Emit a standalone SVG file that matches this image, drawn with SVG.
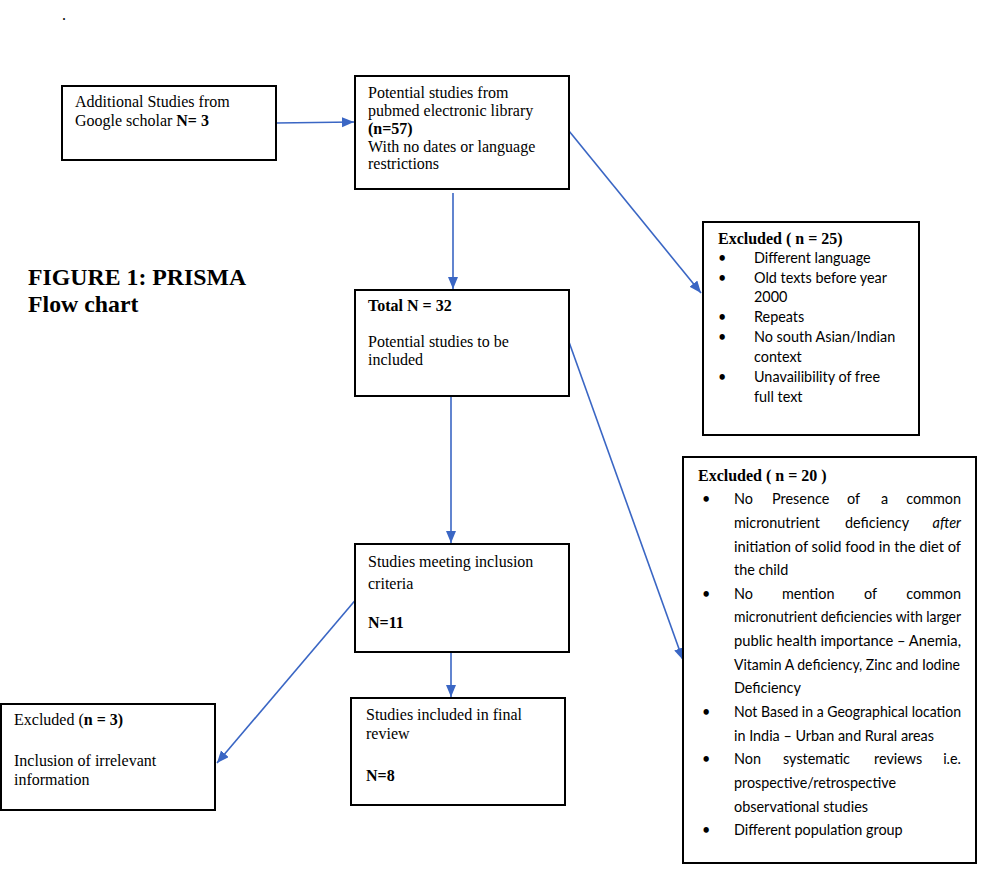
<svg xmlns="http://www.w3.org/2000/svg" width="986" height="887" viewBox="0 0 986 887">
<style>
.box{fill:#fff;stroke:#000;stroke-width:2}
.s{font-family:"Liberation Serif","Times New Roman",serif;font-size:16px;fill:#000}
.b{font-weight:bold}
.c{font-family:Lato,"Open Sans",sans-serif;font-size:14.4px;fill:#000}
.title{font-family:"Liberation Serif",serif;font-size:23.8px;font-weight:bold;fill:#000}
.con{stroke:#3A66C4;stroke-width:1.6;fill:none;marker-end:url(#ah)}
</style>
<defs>
<marker id="ah" markerUnits="userSpaceOnUse" markerWidth="13" markerHeight="11" refX="12" refY="5" orient="auto">
<path d="M0,0 L12,5 L0,10 z" fill="#3A66C4"/>
</marker>
</defs>
<rect width="986" height="887" fill="#fff"/>
<text class="s" x="62" y="20">.</text>
<g id="title">
<text class="title" x="28" y="285">FIGURE 1: PRISMA</text>
<text class="title" x="28" y="312">Flow chart</text>
</g>
<g id="connectors">
<line class="con" x1="276" y1="123" x2="354" y2="122"/>
<line class="con" x1="453" y1="193" x2="453" y2="289"/>
<line class="con" x1="569" y1="131" x2="701" y2="293"/>
<line class="con" x1="451" y1="397" x2="451" y2="543"/>
<line class="con" x1="569" y1="342" x2="683" y2="660"/>
<line class="con" x1="451" y1="650" x2="451" y2="697"/>
<line class="con" x1="358" y1="597" x2="217" y2="763"/>
</g>
<g id="additional">
<rect class="box" x="62" y="86" width="214" height="74"/>
<text class="s" x="75" y="107">Additional Studies  from</text>
<text class="s" x="75" y="126">Google scholar <tspan class="b">N= 3</tspan></text>
</g>
<g id="pubmed">
<rect class="box" x="355" y="76" width="214" height="113"/>
<text class="s" x="368" y="98">Potential studies  from</text>
<text class="s" x="368" y="116">pubmed electronic library</text>
<text class="s b" x="368" y="134">(n=57)</text>
<text class="s" x="368" y="152">With no dates or language</text>
<text class="s" x="368" y="169">restrictions</text>
</g>
<g id="total">
<rect class="box" x="355" y="290" width="214" height="106"/>
<text class="s b" x="368" y="311">Total N = 32</text>
<text class="s" x="368" y="347">Potential studies  to be</text>
<text class="s" x="368" y="365">included</text>
</g>
<g id="meeting">
<rect class="box" x="355" y="544" width="214" height="108"/>
<text class="s" x="368" y="567">Studies  meeting inclusion</text>
<text class="s" x="368" y="589">criteria</text>
<text class="s b" x="368" y="628">N=11</text>
</g>
<g id="final">
<rect class="box" x="351" y="698" width="214" height="107"/>
<text class="s" x="366" y="720">Studies  included in final</text>
<text class="s" x="366" y="739">review</text>
<text class="s b" x="366" y="781">N=8</text>
</g>
<g id="excluded3">
<rect class="box" x="1" y="704" width="214" height="106"/>
<text class="s" x="14" y="725">Excluded (<tspan class="b">n = 3)</tspan></text>
<text class="s" x="14" y="766">Inclusion of irrelevant</text>
<text class="s" x="14" y="785">information</text>
</g>
<g id="excluded25">
<rect class="box" x="703" y="222" width="216" height="213"/>
<text class="s b" x="718" y="244">Excluded ( n = 25)</text>
<g class="c">
<text x="718" y="263">•</text><text x="754" y="263">Different language</text>
<text x="718" y="283">•</text><text x="754" y="283">Old texts before year</text>
<text x="754" y="302">2000</text>
<text x="718" y="322">•</text><text x="754" y="322">Repeats</text>
<text x="718" y="342">•</text><text x="754" y="342">No south Asian/Indian</text>
<text x="754" y="362">context</text>
<text x="718" y="382">•</text><text x="754" y="382">Unavailibility of free</text>
<text x="754" y="402">full text</text>
</g>
</g>
<g id="excluded20">
<rect class="box" x="683" y="457" width="293" height="406"/>
<text class="s b" x="698" y="481">Excluded ( n = 20 )</text>
<g class="c">
<text x="702" y="504">•</text>
<text x="734" y="504">No</text><text x="772" y="504">Presence</text><text x="847" y="504">of</text><text x="881" y="504">a</text><text x="961" y="504" text-anchor="end">common</text>
<text x="734" y="528">micronutrient</text><text x="845" y="528">deficiency</text><text x="961" y="528" text-anchor="end" font-style="italic">after</text>
<text x="734" y="552" textLength="227" lengthAdjust="spacingAndGlyphs">initiation of solid food in the diet of</text>
<text x="734" y="575">the child</text>
<text x="702" y="599">•</text>
<text x="734" y="599">No</text><text x="782" y="599">mention</text><text x="864" y="599">of</text><text x="961" y="599" text-anchor="end">common</text>
<text x="734" y="622" textLength="227" lengthAdjust="spacingAndGlyphs">micronutrient deficiencies with larger</text>
<text x="734" y="646" textLength="227" lengthAdjust="spacingAndGlyphs">public health importance – Anemia,</text>
<text x="734" y="670" textLength="226" lengthAdjust="spacingAndGlyphs">Vitamin A deficiency, Zinc and Iodine</text>
<text x="734" y="693">Deficiency</text>
<text x="702" y="717">•</text>
<text x="734" y="717" textLength="227" lengthAdjust="spacingAndGlyphs">Not Based in a Geographical location</text>
<text x="734" y="741" textLength="200" lengthAdjust="spacingAndGlyphs">in India – Urban and Rural areas</text>
<text x="702" y="764">•</text>
<text x="734" y="764">Non</text><text x="783" y="764">systematic</text><text x="874" y="764">reviews</text><text x="961" y="764" text-anchor="end">i.e.</text>
<text x="734" y="788" textLength="162" lengthAdjust="spacingAndGlyphs">prospective/retrospective</text>
<text x="734" y="812" textLength="134" lengthAdjust="spacingAndGlyphs">observational studies</text>
<text x="702" y="835">•</text>
<text x="734" y="835">Different population group</text>
</g>
</g>
</svg>
